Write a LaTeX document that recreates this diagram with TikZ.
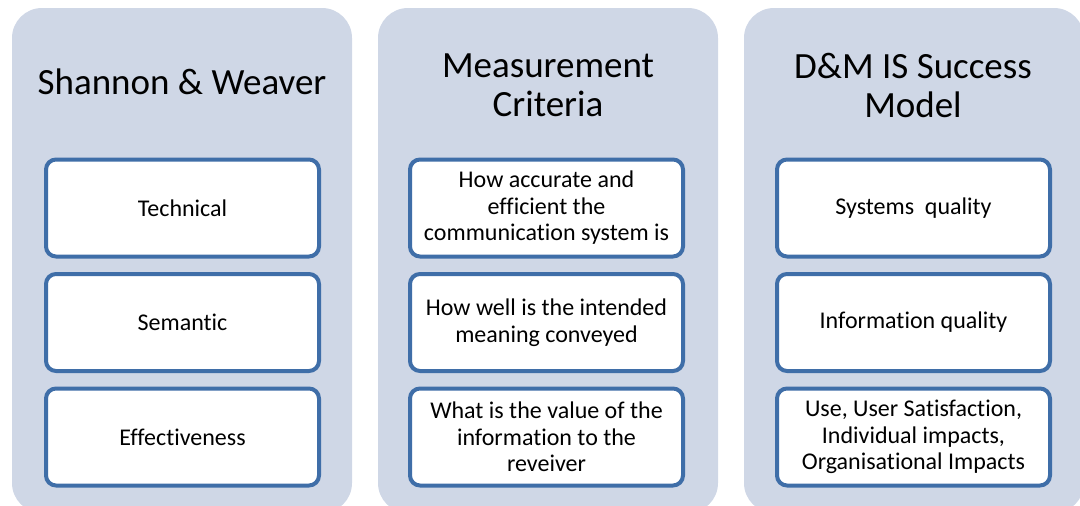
\documentclass[tikz,border=0pt]{standalone}
\usepackage{fontspec}
\setmainfont{Carlito}[Ligatures=NoCommon]
\definecolor{panelfill}{HTML}{CFD7E6}
\definecolor{boxline}{HTML}{3F6EA8}
\tikzset{
  panel/.style={fill=panelfill, draw=none, rounded corners=30pt,
                minimum width=340pt, minimum height=505pt, inner sep=0pt},
  heading/.style={align=center, font=\fontsize{37}{39}\selectfont},
  item/.style={draw=boxline, line width=4pt, fill=white, rounded corners=10pt,
               minimum width=273pt, minimum height=97pt, inner sep=2pt,
               align=center, font=\fontsize{24}{26.5}\selectfont},
}
\begin{document}
\begin{tikzpicture}[x=1pt,y=-1pt]
%    \draw[help lines] (0,0) grid[step=20] (1080,506);
    \useasboundingbox (0,0) rectangle (1080,506);
    \node[panel](sw-panel) at (182,260.5) {};
    \node[panel](mc-panel) at (548,260.5) {};
    \node[panel](dm-panel) at (914,260.5) {};

    \node[heading](sw-title) at (182,82) {Shannon \& Weaver};
    \node[heading](mc-title) at (548,85) {Measurement\\Criteria};
    \node[heading](dm-title) at (913,85) {D\&M IS Success\\Model};

    \node[item](technical)     at (182.5,208)   {Technical};
    \node[item](semantic)      at (182.5,322.5) {Semantic};
    \node[item](effectiveness) at (182.5,437)   {Effectiveness};

    \node[item](accurate) at (546.5,208)   {How accurate and\\efficient the\\communication system is};
    \node[item](meaning)  at (546.5,322.5) {How well is the intended\\meaning conveyed};
    \node[item](value)    at (546.5,437)   {What is the value of the\\information to the\\reveiver};

    \node[item](sys-quality)  at (913.5,208)   {Systems\ \ quality};
    \node[item](info-quality) at (913.5,322.5) {Information quality};
    \node[item](impacts)      at (913.5,437)   {Use, User Satisfaction,\\Individual impacts,\\Organisational Impacts};
\end{tikzpicture}
\end{document}
